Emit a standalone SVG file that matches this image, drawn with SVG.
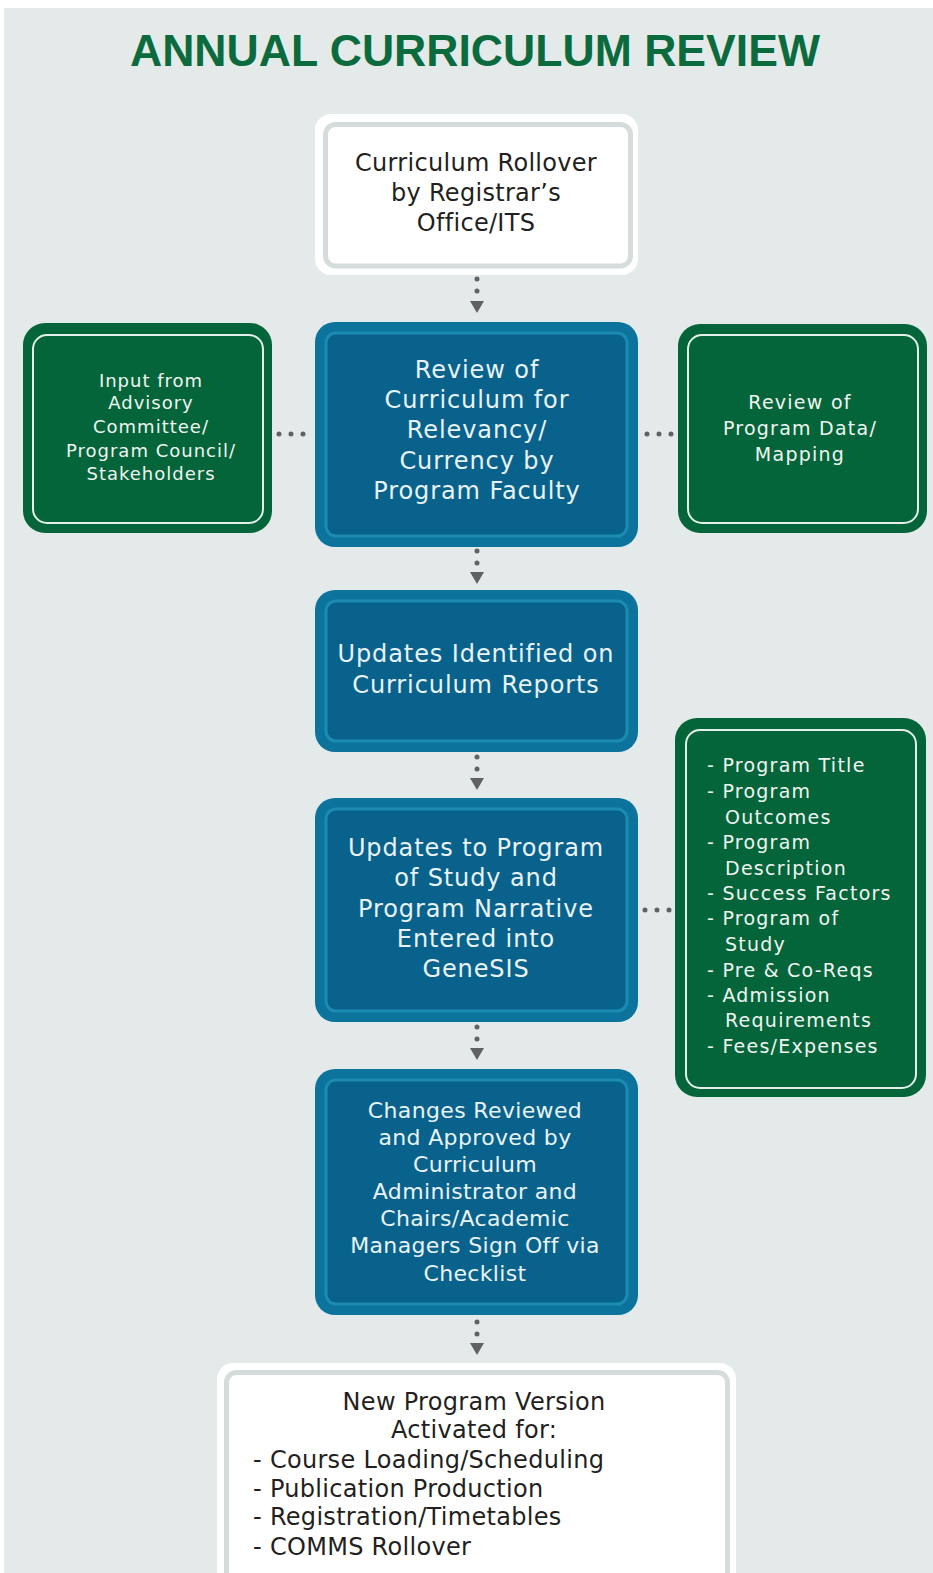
<svg xmlns="http://www.w3.org/2000/svg" width="933" height="1573" viewBox="0 0 933 1573">
<defs>
<marker id="ah" viewBox="0 0 12 14" refX="0" refY="7" markerWidth="12" markerHeight="14" markerUnits="userSpaceOnUse" orient="auto">
<path d="M0,0 L12,7 L0,14 z" fill="#5f6163"/>
</marker>
<style>
.bg{fill:#e4eaea}
.title{font-family:"Liberation Sans",Arial,sans-serif;font-weight:bold;font-size:45px;fill:#0b6b3d}
.wo{fill:#ffffff}
.wi{fill:#ffffff;stroke:#d4dcdc;stroke-width:5}
.bo{fill:#0b739c}
.bi{fill:#08628c;stroke:#1c8bb2;stroke-width:3}
.go{fill:#05653a}
.gi{fill:none;stroke:#e3efe8;stroke-width:2}
.tw{font-family:"DejaVu Sans",Verdana,sans-serif;font-size:24px;fill:#231f20;letter-spacing:0.3px}
.tb{font-family:"DejaVu Sans",Verdana,sans-serif;font-size:24px;fill:#e9f3f6;text-anchor:middle;letter-spacing:0.9px}
.tb2{font-family:"DejaVu Sans",Verdana,sans-serif;font-size:22px;fill:#e9f3f6;text-anchor:middle;letter-spacing:0.35px}
.tg{font-family:"DejaVu Sans",Verdana,sans-serif;font-size:18px;fill:#f0f5f1;letter-spacing:1px}
.tg2{font-family:"DejaVu Sans",Verdana,sans-serif;font-size:19px;fill:#f0f5f1;letter-spacing:1.25px}
.c{text-anchor:middle}
.dots{stroke:#5f6163;stroke-width:5;stroke-linecap:round;stroke-dasharray:0 12;fill:none}
</style>
</defs>
<rect x="0" y="0" width="933" height="1573" fill="#ffffff"/>
<rect class="bg" x="4" y="8" width="929" height="1565"/>
<text class="title" x="475" y="66" text-anchor="middle" textLength="690" lengthAdjust="spacingAndGlyphs">ANNUAL CURRICULUM REVIEW</text>

<g id="connectors">
<line class="dots" x1="477" y1="279" x2="477" y2="301" marker-end="url(#ah)"/>
<line class="dots" x1="477" y1="551" x2="477" y2="572" marker-end="url(#ah)"/>
<line class="dots" x1="477" y1="757" x2="477" y2="778" marker-end="url(#ah)"/>
<line class="dots" x1="477" y1="1027" x2="477" y2="1048" marker-end="url(#ah)"/>
<line class="dots" x1="477" y1="1322" x2="477" y2="1343" marker-end="url(#ah)"/>
<line class="dots" x1="279" y1="434" x2="303.5" y2="434"/>
<line class="dots" x1="647" y1="434" x2="671.5" y2="434"/>
<line class="dots" x1="645" y1="910" x2="669.5" y2="910"/>
</g>

<g id="n-rollover">
<rect class="wo" x="315" y="114" width="323" height="161" rx="16"/>
<rect class="wi" x="325.5" y="124.5" width="305" height="141.5" rx="10"/>
<text class="tw c" x="476" y="170.5">Curriculum Rollover</text>
<text class="tw c" x="476" y="200.5">by Registrar’s</text>
<text class="tw c" x="476" y="230.5">Office/ITS</text>
</g>

<g id="n-review">
<rect class="bo" x="315" y="322" width="323" height="225" rx="20"/>
<rect class="bi" x="326" y="333" width="301" height="203" rx="10"/>
<text class="tb" x="477" y="377.5">Review of</text>
<text class="tb" x="477" y="407.5">Curriculum for</text>
<text class="tb" x="477" y="437.5">Relevancy/</text>
<text class="tb" x="477" y="468.5">Currency by</text>
<text class="tb" x="477" y="498.5">Program Faculty</text>
</g>

<g id="n-input">
<rect class="go" x="23" y="323" width="249" height="210" rx="22"/>
<rect class="gi" x="33" y="335" width="230" height="188" rx="14"/>
<text class="tg c" x="151" y="387">Input from</text>
<text class="tg c" x="151" y="409">Advisory</text>
<text class="tg c" x="151" y="433">Committee/</text>
<text class="tg c" x="151" y="457">Program Council/</text>
<text class="tg c" x="151" y="480">Stakeholders</text>
</g>

<g id="n-data">
<rect class="go" x="678" y="324" width="249" height="209" rx="22"/>
<rect class="gi" x="688" y="335" width="230" height="188" rx="14"/>
<text class="tg2 c" x="800" y="409">Review of</text>
<text class="tg2 c" x="800" y="435">Program Data/</text>
<text class="tg2 c" x="800" y="461">Mapping</text>
</g>

<g id="n-updates-identified">
<rect class="bo" x="315" y="590" width="323" height="162" rx="20"/>
<rect class="bi" x="326" y="601" width="301" height="140" rx="10"/>
<text class="tb" x="476" y="661.5">Updates Identified on</text>
<text class="tb" x="476" y="692.5">Curriculum Reports</text>
</g>

<g id="n-updates-program">
<rect class="bo" x="315" y="798" width="323" height="224" rx="20"/>
<rect class="bi" x="326" y="809" width="301" height="202" rx="10"/>
<text class="tb" x="476" y="855.5">Updates to Program</text>
<text class="tb" x="476" y="885.5">of Study and</text>
<text class="tb" x="476" y="916.5">Program Narrative</text>
<text class="tb" x="476" y="946.5">Entered into</text>
<text class="tb" x="476" y="976.5">GeneSIS</text>
</g>

<g id="n-fields">
<rect class="go" x="675" y="718" width="251" height="379" rx="22"/>
<rect class="gi" x="686" y="730" width="230" height="358" rx="14"/>
<text class="tg2" x="707" y="772">- Program Title</text>
<text class="tg2" x="707" y="798">- Program</text>
<text class="tg2" x="725" y="824">Outcomes</text>
<text class="tg2" x="707" y="849">- Program</text>
<text class="tg2" x="725" y="875">Description</text>
<text class="tg2" x="707" y="900">- Success Factors</text>
<text class="tg2" x="707" y="925">- Program of</text>
<text class="tg2" x="725" y="951">Study</text>
<text class="tg2" x="707" y="977">- Pre &amp; Co-Reqs</text>
<text class="tg2" x="707" y="1002">- Admission</text>
<text class="tg2" x="725" y="1027">Requirements</text>
<text class="tg2" x="707" y="1053">- Fees/Expenses</text>
</g>

<g id="n-approved">
<rect class="bo" x="315" y="1069" width="323" height="246" rx="20"/>
<rect class="bi" x="326" y="1080" width="301" height="224" rx="10"/>
<text class="tb2" x="475" y="1117.5">Changes Reviewed</text>
<text class="tb2" x="475" y="1144.5">and Approved by</text>
<text class="tb2" x="475" y="1171.5">Curriculum</text>
<text class="tb2" x="475" y="1198.5">Administrator and</text>
<text class="tb2" x="475" y="1225.5">Chairs/Academic</text>
<text class="tb2" x="475" y="1252.5">Managers Sign Off via</text>
<text class="tb2" x="475" y="1280.5">Checklist</text>
</g>

<g id="n-activated">
<rect class="wo" x="217" y="1363" width="519" height="240" rx="16"/>
<rect class="wi" x="226.5" y="1372.5" width="501" height="240" rx="10"/>
<text class="tw c" x="474" y="1409.5">New Program Version</text>
<text class="tw c" x="474" y="1437.5">Activated for:</text>
<text class="tw" x="253" y="1467.5">- Course Loading/Scheduling</text>
<text class="tw" x="253" y="1496.5">- Publication Production</text>
<text class="tw" x="253" y="1524.5">- Registration/Timetables</text>
<text class="tw" x="253" y="1554.5">- COMMS Rollover</text>
</g>
</svg>
